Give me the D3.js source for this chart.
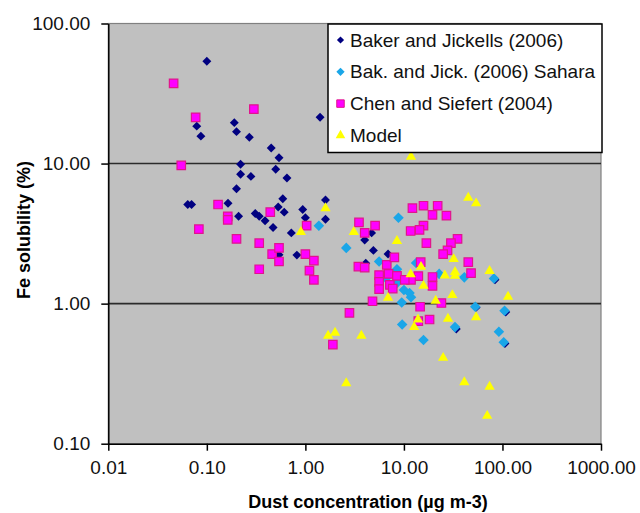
<!DOCTYPE html>
<html>
<head>
<meta charset="utf-8">
<script src="https://cdn.jsdelivr.net/npm/d3@7"></script>
<style>
  body { margin: 0; background: #fff; }
  text { font-family: "Liberation Sans", Arial, sans-serif; }
</style>
</head>
<body>
<div id="chart"></div>
<script>
// values (dust in ug m-3, solubility in %)
const baker = [
  [0.10, 53.7], [0.19, 19.6], [0.079, 18.5], [0.20, 16.9], [0.087, 15.7], [0.27, 15.4],
  [0.45, 12.9], [0.54, 11.0], [1.41, 21.4], [0.22, 9.9], [0.50, 9.1], [0.22, 8.4],
  [0.28, 8.1], [0.65, 7.9], [0.20, 6.6], [0.59, 5.6], [1.60, 5.5], [0.064, 5.1],
  [0.070, 5.1], [0.164, 5.2], [0.53, 4.9], [0.61, 4.5], [0.94, 4.7], [0.21, 4.2],
  [0.31, 4.4], [0.34, 4.2], [0.39, 3.9], [1.0, 4.1], [1.6, 4.0], [0.47, 3.5],
  [0.72, 3.2], [4.0, 2.85], [4.7, 3.2], [4.9, 2.4], [6.9, 2.26], [4.1, 1.94],
  [0.54, 2.23], [0.82, 2.22], [84, 1.48], [108, 0.87], [106, 0.52], [34, 0.66], [54, 0.94]
];
const sahara = [
  [1.37, 3.6], [2.6, 2.5], [8.8, 4.1], [5.6, 2.0], [13.3, 1.95], [8.5, 1.76],
  [7.8, 1.32], [10.0, 1.25], [11.4, 1.19], [11.8, 1.11], [9.5, 1.02], [9.6, 0.71],
  [15.8, 0.55], [22.8, 1.63], [33, 0.68], [41, 1.54], [53, 0.95], [82, 1.51],
  [105, 0.89], [92, 0.63], [103, 0.53], [6.6, 1.52], [8.7, 1.43]
];
const chen = [
  [0.046, 37.4], [0.077, 21.4], [0.30, 24.5], [0.055, 9.7], [0.13, 5.1], [0.163, 4.2],
  [0.163, 3.96], [0.083, 3.4], [0.44, 4.5], [1.03, 3.6], [0.20, 2.9], [0.34, 2.7],
  [0.46, 2.26], [0.54, 2.5], [0.54, 2.0], [0.34, 1.76], [1.0, 2.26], [1.22, 2.03],
  [1.10, 1.72], [1.22, 1.48], [3.5, 3.8], [4.0, 3.2], [5.1, 3.6], [3.45, 1.84],
  [4.0, 1.81], [6.7, 1.89], [8.0, 2.14], [5.6, 1.6], [5.6, 1.43], [7.0, 1.63],
  [5.6, 1.27], [7.2, 1.36], [7.7, 1.28], [8.5, 1.58], [4.8, 1.04], [2.8, 0.86],
  [12.2, 4.8], [15.8, 5.0], [22, 5.0], [19.5, 4.3], [27, 4.25], [15.8, 3.6],
  [14.4, 3.36], [11.7, 3.3], [16.9, 2.7], [35, 2.9], [30, 2.7], [27.7, 2.4],
  [25, 2.26], [45, 1.98], [48, 1.65], [14.8, 1.98], [19.5, 1.55], [19.5, 1.34],
  [14, 1.57], [11.8, 1.48], [10.2, 1.48], [24, 1.01], [14.6, 0.95], [18.2, 0.77],
  [14, 0.75], [1.9, 0.51]
];
const model = [
  [11.8, 11.2], [45, 5.7], [54, 5.2], [1.6, 4.8], [0.90, 3.25], [3.1, 3.25],
  [8.5, 2.8], [32, 2.08], [14.9, 1.83], [11.7, 1.62], [26, 1.59], [33, 1.68],
  [33, 1.58], [74, 1.71], [15.8, 1.34], [31, 1.15], [21, 1.05], [6.9, 1.10],
  [114, 1.12], [28, 0.78], [54, 0.80], [13.9, 0.77], [12.7, 0.68], [1.7, 0.59],
  [2.0, 0.62], [3.7, 0.59], [25, 0.41], [2.6, 0.27], [41, 0.275], [74, 0.255], [70, 0.158]
];

const seriesNames = ["Baker and Jickells (2006)", "Bak. and Jick. (2006) Sahara", "Chen and Siefert (2004)", "Model"];
const xTicks = [0.01, 0.1, 1, 10, 100, 1000];
const yTicks = [0.1, 1, 10, 100];
const gridValues = [1, 10];

const W = 640, H = 513;
const margin = { top: 23.5, right: 39, bottom: 69.3, left: 108.3 };

const svg = d3.select("#chart")
  .append("svg")
  .attr("width", W)
  .attr("height", H);

const x = d3.scaleLog()
  .domain([0.01, 1000])
  .range([margin.left, W - margin.right]);

const y = d3.scaleLog()
  .domain([0.1, 100])
  .range([H - margin.bottom, margin.top]);

// plot area
svg.append("rect")
  .attr("x", margin.left)
  .attr("y", margin.top)
  .attr("width", W - margin.right - margin.left)
  .attr("height", H - margin.bottom - margin.top)
  .attr("fill", "#c0c0c0")
  .attr("stroke", "#808080")
  .attr("stroke-width", 1.2);

svg.append("g")
  .selectAll("line")
  .data(gridValues)
  .join("line")
  .attr("x1", margin.left)
  .attr("x2", W - margin.right)
  .attr("y1", d => y(d))
  .attr("y2", d => y(d))
  .attr("stroke", "#2b2b2b")
  .attr("stroke-width", 1.6);

// markers, same look as excel
const diamond = s => d3.symbol(d3.symbolSquare, s);
const styles = [
  { data: baker, sym: diamond(40), rot: 45, fill: "#000080", stroke: "none" },
  { data: sahara, sym: diamond(56), rot: 45, fill: "#1aa6e8", stroke: "none" },
  { data: chen, sym: d3.symbol(d3.symbolSquare, 72), rot: 0, fill: "#ff00ff", stroke: "#e0168c" },
  { data: model, sym: d3.symbol(d3.symbolTriangle, 46), rot: 0, fill: "#ffff00", stroke: "none" }
];

styles.forEach(s => {
  svg.append("g")
    .selectAll("path")
    .data(s.data)
    .join("path")
    .attr("d", s.sym)
    .attr("transform", d => `translate(${x(d[0])},${y(d[1])}) rotate(${s.rot})`)
    .attr("fill", s.fill)
    .attr("stroke", s.stroke)
    .attr("stroke-width", 1.2);
});

// axes
const yAxis = g => g
  .attr("transform", `translate(${margin.left},0)`)
  .call(d3.axisLeft(y).tickValues(yTicks).tickFormat(d3.format(".2f"))
    .tickSize(7).tickSizeOuter(0).tickPadding(11));

const xAxis = g => g
  .attr("transform", `translate(0,${H - margin.bottom})`)
  .call(d3.axisBottom(x).tickValues(xTicks).tickFormat(d3.format(".2f"))
    .tickSize(7).tickSizeOuter(0).tickPadding(10));

[yAxis, xAxis].forEach(a => {
  const g = svg.append("g").call(a);
  g.attr("font-family", null).attr("font-size", 19);
  g.selectAll("text").attr("fill", "#111");
  g.selectAll("line, path").attr("stroke", "#000").attr("stroke-width", 1.5);
});

// axis titles
svg.append("text")
  .attr("x", 368)
  .attr("y", 508)
  .attr("text-anchor", "middle")
  .attr("font-size", 18)
  .attr("font-weight", "bold")
  .text("Dust concentration (µg m-3)");

svg.append("text")
  .attr("transform", "translate(30,230) rotate(-90)")
  .attr("text-anchor", "middle")
  .attr("font-size", 18)
  .attr("font-weight", "bold")
  .text("Fe solubility (%)");

// legend
const legend = svg.append("g");
legend.append("rect")
  .attr("x", 328)
  .attr("y", 24)
  .attr("width", 274)
  .attr("height", 128.5)
  .attr("fill", "#fff")
  .attr("stroke", "#000")
  .attr("stroke-width", 1.5);

const legendSyms = [diamond(26), diamond(34), d3.symbol(d3.symbolSquare, 56), d3.symbol(d3.symbolTriangle, 40)];
const rowY = i => 40 + i * 31.8;

legend.selectAll("path")
  .data(styles)
  .join("path")
  .attr("d", (s, i) => legendSyms[i]())
  .attr("transform", (s, i) => `translate(340.5,${rowY(i)}) rotate(${s.rot})`)
  .attr("fill", s => s.fill)
  .attr("stroke", s => s.stroke)
  .attr("stroke-width", 1);

legend.selectAll("text")
  .data(seriesNames)
  .join("text")
  .attr("x", 350)
  .attr("y", (d, i) => rowY(i))
  .attr("dy", "0.35em")
  .attr("font-size", 19)
  .attr("fill", "#111")
  .text(d => d);
</script>
</body>
</html>
